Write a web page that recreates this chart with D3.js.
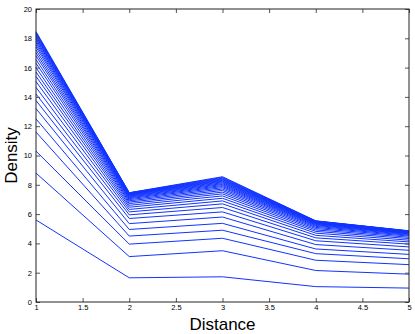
<!DOCTYPE html>
<html>
<head>
<meta charset="utf-8">
<script src="https://cdn.jsdelivr.net/npm/d3@7"></script>
<style>
  body { margin: 0; background: #fff; }
  text { font-family: "Liberation Sans", Arial, sans-serif; }
</style>
</head>
<body>
<div id="chart"></div>
<script>
// distances on the x axis
var distances = [1, 2, 3, 4, 5];

// density at each distance, one array per distance, one value per curve (bottom to top)
var densityAt1 = [5.6, 8.8, 10.3, 11.6, 12.5, 13.2, 13.75, 14.2, 14.65, 15.05, 15.4, 15.7, 16.0, 16.3, 16.55, 16.8, 17.0, 17.2, 17.4, 17.55, 17.7, 17.82, 17.93, 18.03, 18.12, 18.2, 18.27, 18.34, 18.4, 18.46];
var densityAt2 = [1.65, 3.1, 3.95, 4.5, 4.95, 5.35, 5.7, 5.95, 6.15, 6.32, 6.47, 6.6, 6.72, 6.82, 6.91, 6.99, 7.06, 7.12, 7.17, 7.22, 7.26, 7.3, 7.33, 7.36, 7.38, 7.4, 7.42, 7.44, 7.45, 7.46];
var densityAt3 = [1.72, 3.5, 4.35, 4.9, 5.37, 5.8, 6.15, 6.45, 6.7, 6.9, 7.08, 7.24, 7.38, 7.5, 7.61, 7.71, 7.8, 7.88, 7.95, 8.02, 8.08, 8.14, 8.2, 8.25, 8.3, 8.35, 8.4, 8.45, 8.5, 8.55];
var densityAt4 = [1.05, 2.15, 2.85, 3.3, 3.62, 3.92, 4.18, 4.38, 4.55, 4.7, 4.82, 4.92, 5.01, 5.09, 5.16, 5.22, 5.27, 5.31, 5.35, 5.38, 5.41, 5.43, 5.45, 5.47, 5.49, 5.5, 5.51, 5.52, 5.53, 5.54];
var densityAt5 = [0.95, 1.9, 2.55, 2.95, 3.25, 3.53, 3.76, 3.95, 4.1, 4.22, 4.33, 4.42, 4.5, 4.56, 4.61, 4.65, 4.68, 4.71, 4.73, 4.75, 4.77, 4.78, 4.79, 4.8, 4.81, 4.82, 4.83, 4.84, 4.85, 4.86];

var xTicks = [1, 1.5, 2, 2.5, 3, 3.5, 4, 4.5, 5];
var yTicks = [0, 2, 4, 6, 8, 10, 12, 14, 16, 18, 20];

var byDistance = [densityAt1, densityAt2, densityAt3, densityAt4, densityAt5];
var curves = densityAt1.map(function(d, k) {
    return byDistance.map(function(arr) { return arr[k]; });
});

var margin = {top: 9, right: 6, bottom: 32, left: 36}
  , width = 415 - margin.left - margin.right
  , height = 334 - margin.top - margin.bottom;

var xScale = d3.scaleLinear().domain([1, 5]).range([0, width]);
var yScale = d3.scaleLinear().domain([0, 20]).range([height, 0]);

var line = d3.line()
    .x(function(d, i) { return xScale(distances[i]); })
    .y(function(d) { return yScale(d); });

var svg = d3.select("#chart").append("svg")
    .attr("width", 415)
    .attr("height", 334)
  .append("g")
    .attr("transform", "translate(" + margin.left + "," + margin.top + ")");

// curves
svg.selectAll(".curve")
    .data(curves)
    .enter().append("path")
    .attr("class", "curve")
    .attr("d", line)
    .attr("style", "fill: none; stroke: #1133ff; stroke-width: 1;");

// axes, ticks pointing inward like the original
var tickStyle = function(g) {
    g.select(".domain").remove();
    g.selectAll("line").attr("stroke", "#555");
    g.selectAll("text").attr("font-size", 7.5).attr("fill", "#000");
};

svg.append("g")
    .attr("transform", "translate(0," + height + ")")
    .call(d3.axisBottom(xScale).tickValues(xTicks).tickSize(-4).tickPadding(3).tickFormat(d3.format("")))
    .call(tickStyle);

svg.append("g")
    .call(d3.axisTop(xScale).tickValues(xTicks).tickSize(-4).tickFormat(""))
    .call(tickStyle);

svg.append("g")
    .call(d3.axisLeft(yScale).tickValues(yTicks).tickSize(-4).tickPadding(4))
    .call(tickStyle);

svg.append("g")
    .attr("transform", "translate(" + width + ",0)")
    .call(d3.axisRight(yScale).tickValues(yTicks).tickSize(-4).tickFormat(""))
    .call(tickStyle);

// box
svg.append("rect")
    .attr("width", width)
    .attr("height", height)
    .attr("style", "fill: none; stroke: #222; stroke-width: 1;");

// axis titles
svg.append("text")
    .attr("x", width / 2)
    .attr("y", height + 28)
    .attr("text-anchor", "middle")
    .attr("font-size", 17)
    .text("Distance");

svg.append("text")
    .attr("transform", "translate(" + (-19) + "," + (height / 2) + ") rotate(-90)")
    .attr("text-anchor", "middle")
    .attr("font-size", 17)
    .text("Density");
</script>
</body>
</html>
